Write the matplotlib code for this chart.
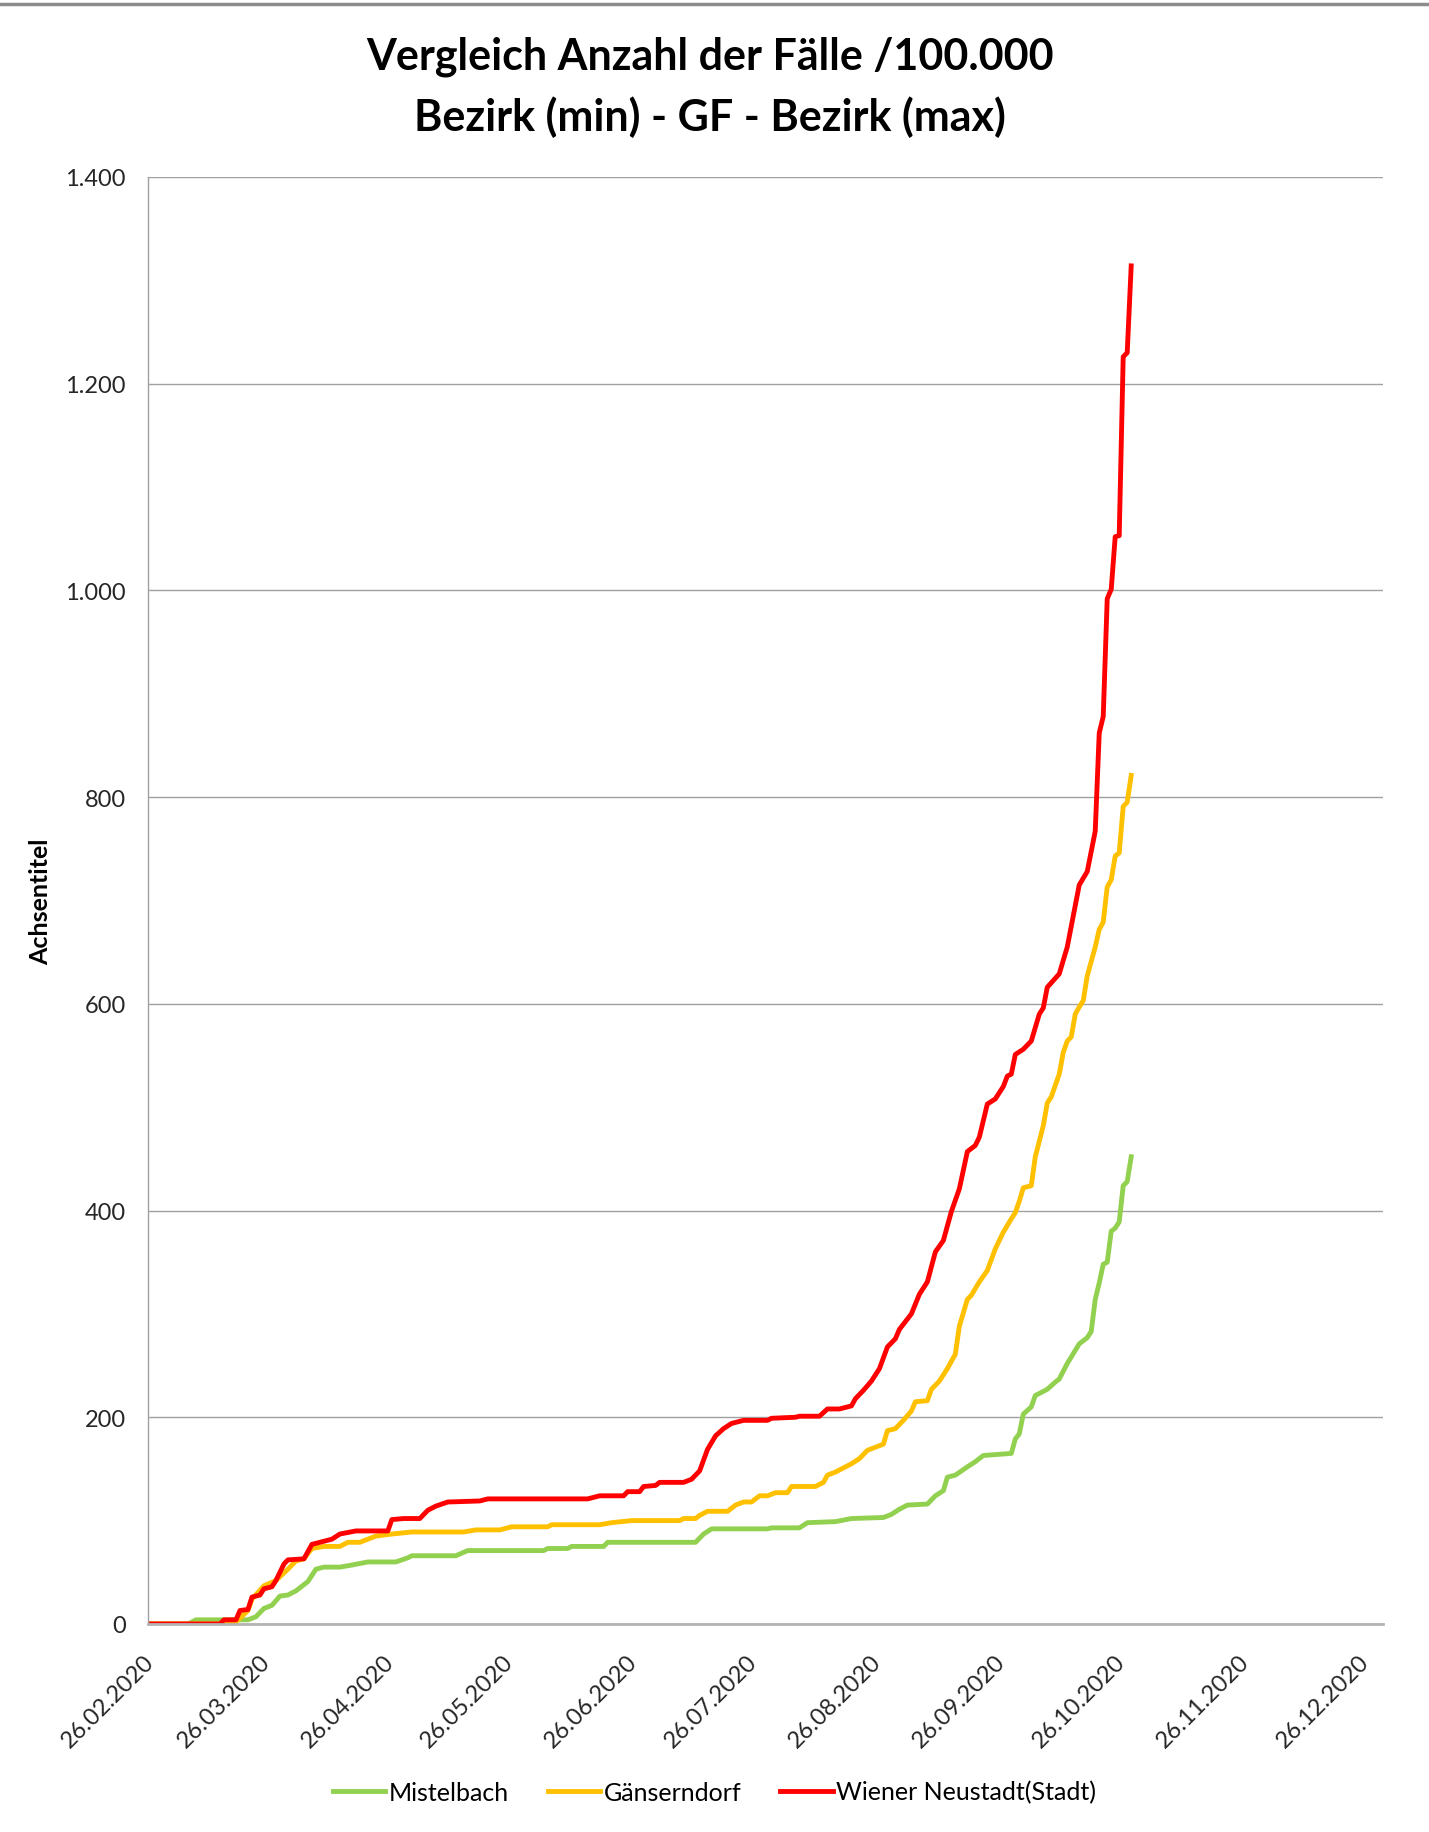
import pandas as pd
import matplotlib
matplotlib.use('Agg')
import matplotlib.pyplot as plt
import matplotlib.dates as mdates
import matplotlib.transforms as mtransforms
from matplotlib.lines import Line2D

plt.rcParams['font.family'] = ['Lato', 'DejaVu Sans']

mistelbach_dates = ['26.02', '07.03', '09.03', '22.03', '24.03', '26.03', '28.03', '30.03', '01.04', '03.04',
                    '04.04', '06.04', '08.04', '10.04', '14.04', '17.04', '21.04', '28.04', '01.05', '02.05',
                    '13.05', '16.05', '04.06', '05.06', '10.06', '11.06', '19.06', '20.06', '12.07', '14.07',
                    '16.07', '30.07', '31.07', '07.08', '09.08', '16.08', '20.08', '28.08', '30.08', '01.09',
                    '03.09', '08.09', '10.09', '12.09', '13.09', '15.09', '18.09', '20.09', '22.09', '29.09',
                    '30.09', '01.10', '02.10', '04.10', '05.10', '08.10', '10.10', '11.10', '13.10', '16.10',
                    '18.10', '19.10', '20.10', '21.10', '22.10', '23.10', '24.10', '25.10', '26.10', '27.10',
                    '28.10', '29.10']
mistelbach = [0, 0, 4, 4, 7, 15, 18, 27, 28, 32,
              35, 41, 53, 55, 55, 57, 60, 60, 64, 66,
              66, 71, 71, 73, 73, 75, 75, 79, 79, 87,
              92, 92, 93, 93, 98, 99, 102, 103, 106, 111,
              115, 116, 124, 129, 142, 144, 152, 157, 163, 165,
              179, 184, 203, 210, 221, 227, 234, 237, 252, 271,
              277, 283, 314, 330, 348, 350, 380, 383, 389, 424,
              428, 452]

gaenserndorf_dates = ['26.02', '18.03', '19.03', '22.03', '23.03', '26.03', '29.03', '01.04', '03.04', '05.04',
                      '07.04', '10.04', '14.04', '16.04', '19.04', '21.04', '23.04', '27.04', '02.05', '15.05',
                      '18.05', '24.05', '27.05', '05.06', '06.06', '18.06', '21.06', '26.06', '08.07', '09.07',
                      '12.07', '13.07', '15.07', '20.07', '22.07', '24.07', '26.07', '28.07', '30.07', '01.08',
                      '04.08', '05.08', '11.08', '13.08', '14.08', '16.08', '18.08', '20.08', '22.08', '24.08',
                      '26.08', '28.08', '29.08', '31.08', '02.09', '04.09', '05.09', '08.09', '09.09', '11.09',
                      '13.09', '15.09', '16.09', '18.09', '19.09', '21.09', '23.09', '25.09', '27.09', '29.09',
                      '30.09', '01.10', '02.10', '04.10', '05.10', '07.10', '08.10', '09.10', '11.10', '12.10',
                      '13.10', '14.10', '15.10', '16.10', '17.10', '18.10', '20.10', '21.10', '22.10', '23.10',
                      '24.10', '25.10', '26.10', '27.10', '28.10', '29.10']
gaenserndorf = [0, 0, 2, 13, 24, 37, 42, 53, 61, 63,
                73, 75, 75, 79, 79, 82, 85, 87, 89, 89,
                91, 91, 94, 94, 96, 96, 98, 100, 100, 102,
                102, 105, 109, 109, 115, 118, 118, 124, 124, 127,
                127, 133, 133, 137, 144, 147, 151, 155, 160, 168,
                171, 174, 187, 189, 197, 206, 215, 216, 227, 235,
                247, 261, 288, 314, 318, 331, 342, 363, 379, 392,
                398, 409, 422, 424, 452, 482, 504, 510, 532, 553,
                564, 568, 590, 597, 603, 627, 655, 672, 679, 713,
                720, 743, 746, 791, 795, 821]

wn_dates = ['26.02', '15.03', '16.03', '19.03', '20.03', '22.03', '23.03', '25.03', '26.03', '28.03',
            '29.03', '31.03', '01.04', '05.04', '07.04', '10.04', '12.04', '14.04', '18.04', '26.04',
            '27.04', '30.04', '04.05', '06.05', '08.05', '11.05', '19.05', '21.05', '15.06', '18.06',
            '24.06', '25.06', '28.06', '29.06', '02.07', '03.07', '09.07', '11.07', '13.07', '15.07',
            '17.07', '19.07', '21.07', '24.07', '30.07', '31.07', '06.08', '07.08', '12.08', '14.08',
            '17.08', '20.08', '21.08', '23.08', '25.08', '27.08', '29.08', '31.08', '01.09', '02.09',
            '04.09', '06.09', '08.09', '10.09', '12.09', '14.09', '16.09', '18.09', '20.09', '21.09',
            '23.09', '25.09', '27.09', '28.09', '29.09', '30.09', '02.10', '04.10', '06.10', '07.10',
            '08.10', '11.10', '13.10', '16.10', '18.10', '20.10', '21.10', '22.10', '23.10', '24.10',
            '25.10', '26.10', '27.10', '28.10', '29.10']
wn = [0, 0, 4, 4, 13, 14, 26, 28, 34, 36,
      42, 58, 62, 63, 77, 80, 82, 87, 90, 90,
      101, 102, 102, 110, 114, 118, 119, 121, 121, 124,
      124, 128, 128, 133, 134, 137, 137, 140, 148, 169,
      182, 189, 194, 197, 197, 199, 200, 201, 201, 208,
      208, 211, 218, 226, 235, 247, 268, 276, 285, 290,
      300, 319, 331, 360, 371, 399, 421, 457, 463, 471,
      503, 508, 520, 530, 532, 551, 556, 564, 590, 596,
      616, 629, 655, 715, 728, 767, 862, 878, 992, 1001,
      1052, 1053, 1226, 1230, 1314]

labels = ['Mistelbach', 'Gänserndorf', 'Wiener Neustadt(Stadt)']
colors = ['#92d050', '#ffc000', '#ff0000']
yticks = [0, 200, 400, 600, 800, 1000, 1200, 1400]


def to_dates(days):
    return pd.to_datetime([d + '.2020' for d in days], format='%d.%m.%Y')


fig = plt.figure(figsize=(14.29, 18.33), dpi=100)
ax = fig.add_axes([0.1036, 0.1135, 0.8642, 0.7894])

series = [(mistelbach_dates, mistelbach), (gaenserndorf_dates, gaenserndorf), (wn_dates, wn)]
for (d, v), lab, c in zip(series, labels, colors):
    ax.plot(to_dates(d), v, color=c, lw=3.5, label=lab, solid_joinstyle='round')

ax.set_xlim(pd.Timestamp('2020-02-26'), pd.Timestamp('2020-12-31'))
ax.set_ylim(0, 1400)
ax.set_yticks(yticks)
ax.set_yticklabels([f'{t:,}'.replace(',', '.') for t in yticks])

ax.xaxis.set_major_locator(mdates.MonthLocator(bymonthday=26))
ax.xaxis.set_major_formatter(mdates.DateFormatter('%d.%m.%Y'))

ax.tick_params(axis='both', length=0, labelsize=17, colors='#262626')
ax.tick_params(axis='y', pad=16)
ax.tick_params(axis='x', pad=19)

shift = mtransforms.ScaledTranslation(-0.05, 0, fig.dpi_scale_trans)
for lab in ax.get_xticklabels():
    lab.set_rotation(45)
    lab.set_ha('right')
    lab.set_va('top')
    lab.set_rotation_mode('anchor')
    lab.set_transform(lab.get_transform() + shift)

ax.yaxis.grid(True, color='#a0a0a0', lw=1.0)
ax.set_axisbelow(True)
for s in ['top', 'right']:
    ax.spines[s].set_visible(False)
ax.spines['left'].set_color('#a0a0a0')
ax.spines['left'].set_linewidth(1.0)
ax.spines['bottom'].set_color('#b3b3b3')
ax.spines['bottom'].set_linewidth(2.0)

ax.set_ylabel('Achsentitel', fontsize=18, fontweight='bold')
ax.yaxis.set_label_coords(-0.078, 0.5)

fig.text(0.497, 0.969, 'Vergleich Anzahl der Fälle /100.000', ha='center', va='center',
         fontsize=31, fontweight='bold')
fig.text(0.497, 0.936, 'Bezirk (min) - GF - Bezirk (max)', ha='center', va='center',
         fontsize=31, fontweight='bold')

fig.add_artist(Line2D([0, 1], [0.9975, 0.9975], color='#8c8c8c', lw=2.5))

fig.legend(loc='center', bbox_to_anchor=(0.5, 0.0218), ncol=3, frameon=False, fontsize=18,
           handlelength=2.1, handletextpad=0.15, columnspacing=1.55)

fig.savefig('out.png', dpi=100)
